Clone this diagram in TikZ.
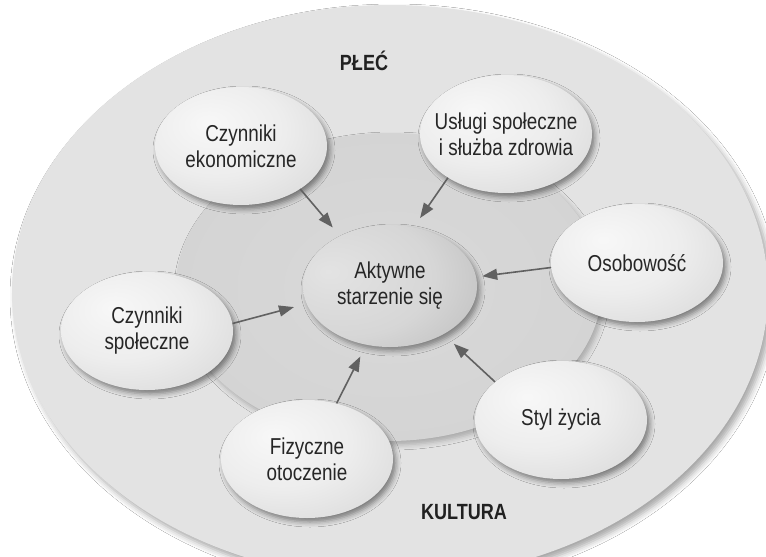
\documentclass[tikz,border=0pt]{standalone}
\usepackage{fontspec}
\setmainfont{Liberation Sans}[FakeStretch=0.82]
\usetikzlibrary{shapes.geometric,arrows.meta,shadows.blur}
\pgfdeclareradialshading{satshade}{\pgfpoint{-10bp}{10bp}}{color(0bp)=(black!3); color(20bp)=(black!7); color(40bp)=(black!15); color(55bp)=(black!27); color(75bp)=(black!33)}
\pgfdeclareradialshading{ctrshade}{\pgfpoint{-18bp}{6bp}}{color(0bp)=(black!11); color(25bp)=(black!16); color(50bp)=(black!29); color(65bp)=(black!38); color(80bp)=(black!41)}
\pgfdeclareradialshading{discshade}{\pgfpoint{0bp}{0bp}}{color(0bp)=(black!15); color(28bp)=(black!17); color(44bp)=(black!21); color(50bp)=(black!26); color(60bp)=(black!26)}
\tikzset{
  txt/.style={font=\fontsize{23}{26}\selectfont, align=center, text=black!85, inner sep=0pt},
  ctxt/.style={font=\fontsize{22}{24}\selectfont\bfseries, text=black!87, inner sep=0pt},
  sat/.style={ellipse, minimum width=172pt, minimum height=118pt, inner sep=0pt,
    shading=satshade, blur shadow={shadow xshift=3pt, shadow yshift=-4pt, shadow blur radius=5pt, shadow opacity=45}},
  ctr/.style={ellipse, minimum width=174pt, minimum height=122pt, inner sep=0pt,
    shading=ctrshade, blur shadow={shadow xshift=3pt, shadow yshift=-4pt, shadow blur radius=5pt, shadow opacity=40}},
  disc/.style={ellipse, minimum width=426pt, minimum height=308pt, inner sep=0pt,
    shading=discshade, blur shadow={shadow xshift=3pt, shadow yshift=-4pt, shadow blur radius=5pt, shadow opacity=25}},
  outer/.style={ellipse, minimum width=756pt, minimum height=574pt, inner sep=0pt,
    fill=black!11, blur shadow={shadow xshift=4pt, shadow yshift=-5pt, shadow blur radius=6pt, shadow opacity=35}},
  arr/.style={draw=black!62, line width=1.6pt, -{Triangle[length=15pt,width=11pt]}}
}
\begin{document}
\begin{tikzpicture}[x=1pt,y=-1pt]
\useasboundingbox (0,0) rectangle (766,557);
\fill[white] (0,0) rectangle (766,557);
\node[outer] (out) at (390,292) {};
\node[disc] (mid) at (389,287) {};
\node[ctxt] (plec) at (364,61) {PŁEĆ};
\node[ctxt] (kult) at (464,512) {KULTURA};
\node[ctr, label={[txt]center:{Aktywne\\starzenie się}}] (c) at (390,286) {};
\node[sat, label={[txt]center:{Czynniki\\ekonomiczne}}] (eko) at (241,146) {};
\node[sat, label={[txt]center:{Usługi społeczne\\i służba zdrowia}}] (usl) at (506,134) {};
\node[sat, label={[txt]center:{Osobowość}}] (osob) at (637,263) {};
\node[sat, label={[txt]center:{Czynniki\\społeczne}}] (soc) at (147,331) {};
\node[sat, label={[txt]center:{Fizyczne\\otoczenie}}] (fiz) at (307,459) {};
\node[sat, label={[txt]center:{Styl życia}}] (styl) at (561,420) {};
\draw[arr, shorten >=11pt] (eko.324) -- (c.135);
\draw[arr, shorten >=11pt] (usl.217) -- (c.68);
\draw[arr, shorten >=6pt] (osob.183) -- (c.6);
\draw[arr, shorten >=13pt] (soc.5) -- (c.192);
\draw[arr, shorten >=13pt] (fiz.62) -- (c.248);
\draw[arr, shorten >=14pt] (styl.150) -- (c.318);
\end{tikzpicture}
\end{document}
